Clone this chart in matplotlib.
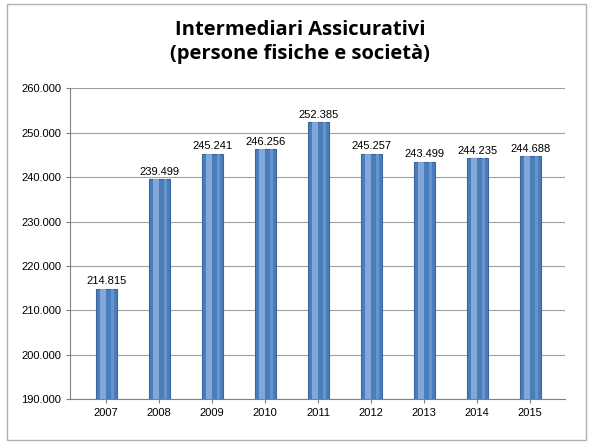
import matplotlib
matplotlib.use("Agg")
import matplotlib.pyplot as plt
import numpy as np
from matplotlib.patches import Rectangle

years = ["2007","2008","2009","2010","2011","2012","2013","2014","2015"]
values = [214815, 239499, 245241, 246256, 252385, 245257, 243499, 244235, 244688]
yticks = [190000, 200000, 210000, 220000, 230000, 240000, 250000, 260000]

def fmt(v):
    return f"{v:,}".replace(",", ".")

fig = plt.figure(figsize=(6, 4.44), dpi=100)
fig.patches.append(Rectangle((0.012, 0.01), 0.965, 0.98, transform=fig.transFigure,
                             fill=False, edgecolor="#b0b0b0", lw=1))
ax = fig.add_axes([0.117, 0.101, 0.825, 0.70])
x = np.arange(len(years))
base = 190000
ax.bar(x, np.array(values) - base, bottom=base, width=0.4, color="#4a7ebb",
       edgecolor="#3a66a0", lw=0.8, zorder=3)
ax.bar(x - 0.06, np.array(values) - base, bottom=base, width=0.1, color="#8fb3e0",
       lw=0, zorder=4, alpha=0.8)
ax.bar(x + 0.12, np.array(values) - base, bottom=base, width=0.06, color="#6f9ad0",
       lw=0, zorder=4, alpha=0.8)
for xi, v in zip(x, values):
    ax.text(xi, v + 600, fmt(v), ha="center", va="bottom",
            fontsize=8, family="Liberation Sans", zorder=5)
ax.set_ylim(190000, 260000)
ax.set_xlim(-0.68, len(years) - 0.34)
ax.set_yticks(yticks)
ax.set_yticklabels([fmt(t) for t in yticks], fontsize=8, family="Liberation Sans")
ax.set_xticks(x)
ax.set_xticklabels(years, fontsize=8, family="Liberation Sans")
ax.grid(axis="y", color="#a0a0a0", lw=0.8, zorder=0)
for s in ["top", "right"]:
    ax.spines[s].set_visible(False)
ax.spines["left"].set_color("#808080")
ax.spines["bottom"].set_color("#808080")
ax.tick_params(length=3, color="#808080")
fig.text(0.5, 0.905, "Intermediari Assicurativi\n(persone fisiche e società)",
         ha="center", va="center", fontsize=14.5, fontweight="bold",
         family="Open Sans", linespacing=1.3)
fig.savefig("out.png", dpi=100)
